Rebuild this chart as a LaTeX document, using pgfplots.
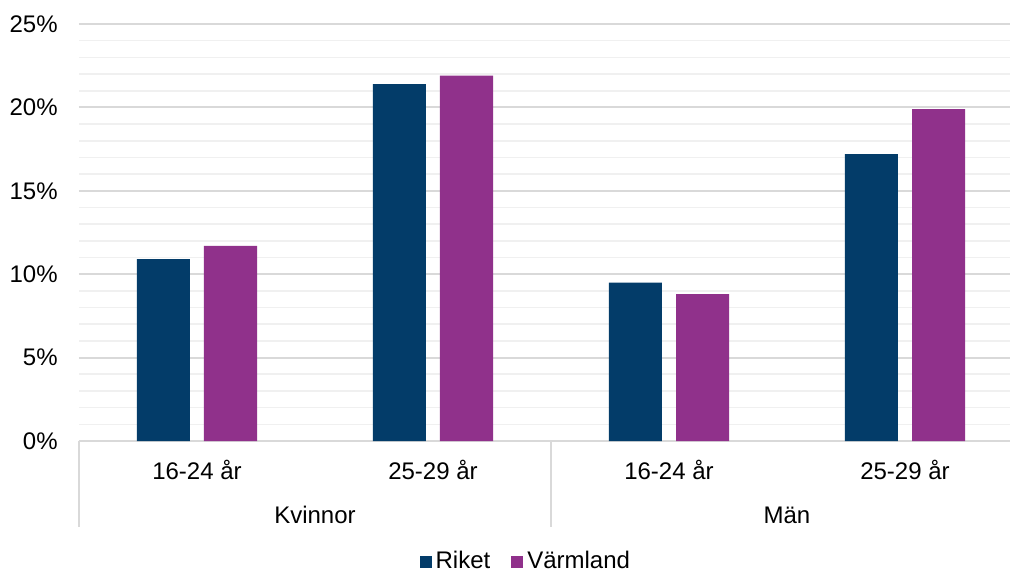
\documentclass[border=0pt]{standalone}
\usepackage{pgfplots}
\pgfplotsset{compat=1.18}
\usepackage{fontspec}
\setmainfont{Liberation Sans}
\definecolor{riket}{HTML}{033C69}
\definecolor{varm}{HTML}{90318B}
\definecolor{majgrid}{HTML}{D9D9D9}
\definecolor{mingrid}{HTML}{F0F0F0}

\begin{document}
\fontsize{12}{14.4}\selectfont
\begin{tikzpicture}
    \path[use as bounding box] (-39.5pt,-65.5pt) rectangle (465.5pt,220.5pt);
    \begin{axis}[
        at={(0pt,0pt)}, anchor=south west,
        scale only axis, width=465.5pt, height=208.5pt,
        ybar=7pt, bar width=26.5pt,
        xmin=-0.5, xmax=3.445, ymin=0, ymax=25,
        clip=false,
        xtick=data,
        xticklabels={16-24 år,25-29 år,16-24 år,25-29 år},
        ytick={0,5,10,15,20,25},
        yticklabels={0\%,5\%,10\%,15\%,20\%,25\%},
        minor ytick={1,2,3,4,6,7,8,9,11,12,13,14,16,17,18,19,21,22,23,24},
        ymajorgrids, yminorgrids,
        major grid style={majgrid, line width=1pt},
        minor grid style={mingrid, line width=0.8pt},
        axis line style={draw=none},
        major tick length=0pt, minor tick length=0pt,
        tick label style={font=\fontsize{12}{14.4}\selectfont},
        xticklabel style={anchor=center, yshift=-14.5pt},
        yticklabel style={anchor=east, inner xsep=0pt, xshift=-10.5pt},
        legend style={at={(0.481,-0.29)}, anchor=center, draw=none, fill=none,
            legend columns=2, font=\fontsize{12}{14.4}\selectfont,
            /tikz/every even column/.append style={column sep=8.5pt}},
        ]
        \addplot[fill=riket, draw=none,
            legend image code/.code={\fill[riket] (0pt,-3pt) rectangle (6pt,3pt);}]
            coordinates {(0,10.9) (1,21.4) (2,9.5) (3,17.2)};
        \addplot[fill=varm, draw=none,
            legend image code/.code={\fill[varm] (0pt,-3pt) rectangle (6pt,3pt);}]
            coordinates {(0,11.7) (1,21.9) (2,8.8) (3,19.9)};
        \legend{Riket, Värmland}

        \draw[majgrid, line width=1pt] (axis cs:-0.5,0) -- ++(0pt,-43pt);
        \draw[majgrid, line width=1pt] (axis cs:1.5,0) -- ++(0pt,-43pt);
        \node at (axis cs:0.5,0) [yshift=-37pt] {Kvinnor};
        \node at (axis cs:2.5,0) [yshift=-37pt] {Män};
    \end{axis}
\end{tikzpicture}
\end{document}
